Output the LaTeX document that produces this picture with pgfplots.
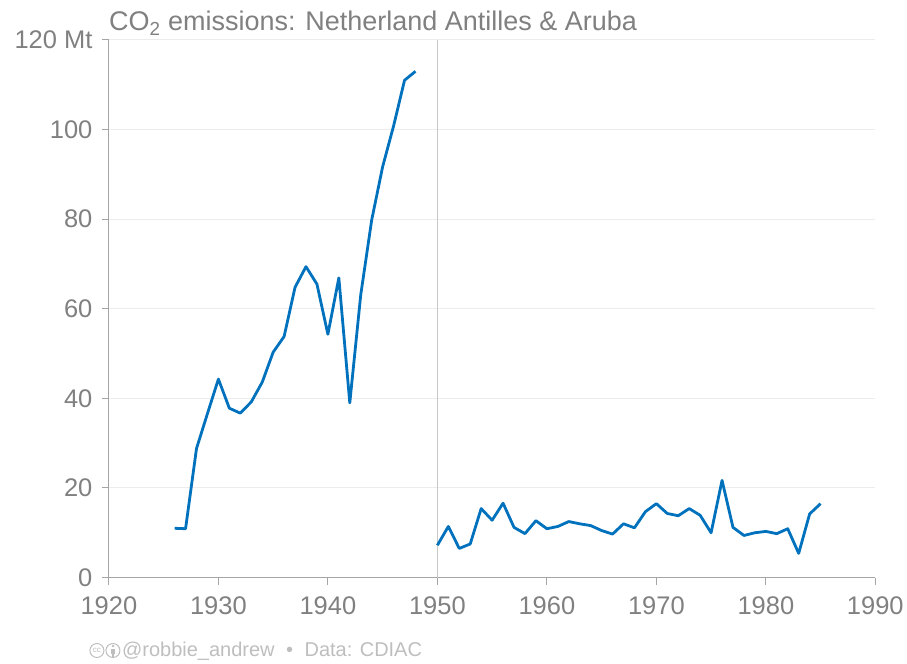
\documentclass[border=0pt]{standalone}
\usepackage{pgfplots}
\pgfplotsset{compat=1.18}
\usepackage{fontspec}
\setmainfont{Liberation Sans}

\definecolor{linecol}{RGB}{0,114,189}
\definecolor{txtgray}{RGB}{128,128,128}
\definecolor{axgray}{RGB}{165,165,165}
\definecolor{gridgray}{RGB}{236,236,236}
\definecolor{divgray}{RGB}{200,200,200}
\definecolor{footgray}{RGB}{190,190,190}

\pgfplotstableread{
year value
1926 11.0
1927 10.9
1928 28.8
1929 36.6
1930 44.3
1931 37.8
1932 36.7
1933 39.2
1934 43.6
1935 50.3
1936 53.8
1937 64.8
1938 69.4
1939 65.5
1940 54.3
1941 66.9
1942 39.0
1943 63.1
1944 79.8
1945 91.7
1946 100.8
1947 111.0
1948 113.0
}\early

\pgfplotstableread{
year value
1950 7.2
1951 11.4
1952 6.5
1953 7.5
1954 15.4
1955 12.8
1956 16.6
1957 11.2
1958 9.8
1959 12.7
1960 10.9
1961 11.4
1962 12.5
1963 12.0
1964 11.6
1965 10.5
1966 9.7
1967 12.0
1968 11.1
1969 14.7
1970 16.5
1971 14.3
1972 13.8
1973 15.4
1974 13.9
1975 10.0
1976 21.7
1977 11.2
1978 9.4
1979 10.0
1980 10.3
1981 9.8
1982 10.9
1983 5.4
1984 14.2
1985 16.5
}\late

\begin{document}
\begin{tikzpicture}
\begin{axis}[
    scale only axis,
    width=767pt,
    height=538pt,
    xmin=1920, xmax=1990,
    ymin=0, ymax=120,
    xtick={1920,1930,...,1990},
    ytick={0,20,...,120},
    yticklabels={0,20,40,60,80,100,120 Mt},
    xticklabel={\pgfmathprintnumber[1000 sep={}]{\tick}},
    axis x line*=bottom,
    axis y line*=left,
    axis line style={axgray, line width=1pt, -},
    tick align=outside,
    tick style={axgray, line width=1pt},
    major tick length=7pt,
    ymajorgrids,
    grid style={gridgray, line width=1pt},
    tick label style={txtgray, font=\fontsize{25.5}{30}\selectfont},
    /pgf/number format/assume math mode=true,
    xticklabel style={yshift=-9pt},
    yticklabel style={xshift=-6pt},
    clip=false,
]
\draw[divgray, line width=1pt] (axis cs:1950,0) -- (axis cs:1950,120);
\addplot[linecol, line width=2.8pt, line join=round] table[x=year, y=value] {\early};
\addplot[linecol, line width=2.8pt, line join=round] table[x=year, y=value] {\late};
\node[anchor=base west, inner sep=0pt, txtgray, font=\fontsize{27}{32}\selectfont]
    at ([yshift=9pt]rel axis cs:0,1) {CO\textsubscript{2} emissions: Netherland Antilles \& Aruba};
\end{axis}
\begin{scope}[shift={(current axis.south west)}]
  % footer: licence icons and credit
  \draw[footgray, line width=1pt] (-12pt,-73pt) circle (7pt);
  \node[footgray, font=\fontsize{8}{8}\selectfont, inner sep=0pt] at (-12pt,-73pt) {cc};
  \draw[footgray, line width=1pt] (4pt,-73pt) circle (7pt);
  \fill[footgray] (4pt,-68.5pt) circle (1.4pt);
  \fill[footgray] (2.3pt,-71pt) rectangle (5.7pt,-76pt);
  \fill[footgray] (3pt,-76pt) rectangle (5pt,-79pt);
  \node[anchor=base west, inner sep=0pt, footgray, font=\fontsize{20}{24}\selectfont]
    at (13pt,-79pt) {@robbie\_andrew \hspace{6pt}•\hspace{6pt} Data: CDIAC};
  \path (-109pt,-86pt) rectangle (798pt,578pt);
\end{scope}
\end{tikzpicture}
\end{document}
